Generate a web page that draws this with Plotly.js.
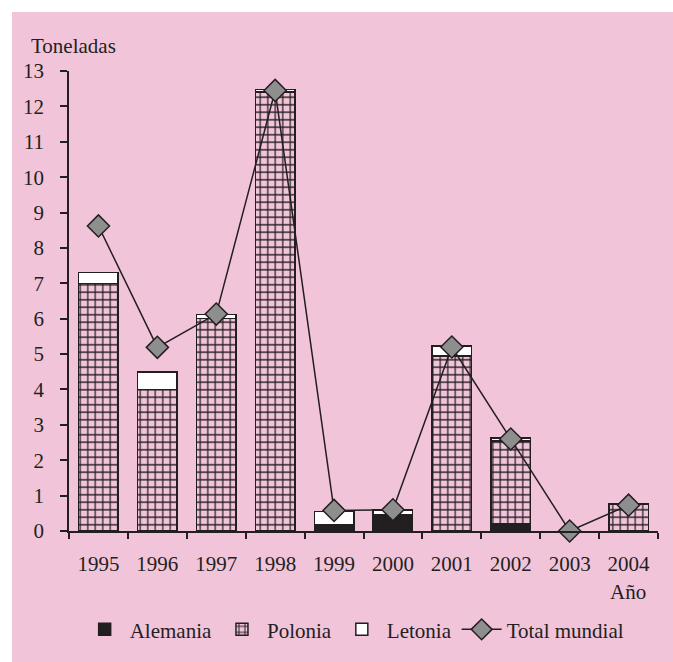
<!DOCTYPE html>
<html>
<head>
<meta charset="utf-8">
<script src="https://cdn.plot.ly/plotly-3.0.1.min.js"></script>
<style>
html,body{margin:0;padding:0;background:#ffffff;}
#chart{position:absolute;left:12px;top:12px;width:661px;height:650px;}
</style>
</head>
<body>
<div id="chart"></div>
<script>
const years = ['1995','1996','1997','1998','1999','2000','2001','2002','2003','2004'];
const alemania = [null,null,null,null,0.17,0.45,null,0.2,null,null];
const polonia = [7.0,4.0,6.0,12.4,null,null,4.95,2.34,null,0.77];
const letonia = [0.3,0.5,0.12,0.08,0.38,0.15,0.28,0.09,null,null];
const totalMundial = [8.62,5.19,6.13,12.45,0.58,0.6,5.2,2.6,0,0.73];

const pink = '#F2C4DA';
const ink = '#231F20';

const traces = [
  {type:'bar', name:'Alemania', x:years, y:alemania,
   marker:{color:ink, line:{color:ink, width:1.5}}},
  {type:'bar', name:'Polonia', x:years, y:polonia,
   marker:{color:pink, line:{color:ink, width:1.5},
           pattern:{shape:'+', fgcolor:ink, bgcolor:pink, size:7.5, solidity:0.3, fillmode:'replace'}}},
  {type:'bar', name:'Letonia', x:years, y:letonia,
   marker:{color:'#ffffff', line:{color:ink, width:1.5}}},
  {type:'scatter', mode:'lines+markers', name:'Total mundial', x:years, y:totalMundial,
   cliponaxis:false,
   line:{color:ink, width:1.5},
   marker:{symbol:'diamond', size:17, color:'#8E8E8E', line:{color:ink, width:1.5}}}
];

const layout = {
  width:661, height:650,
  paper_bgcolor:pink, plot_bgcolor:pink,
  margin:{l:57, r:15, t:59, b:125},
  barmode:'stack', bargap:0.33,
  showlegend:true,
  font:{family:'Liberation Serif', size:21, color:ink},
  xaxis:{type:'category', range:[-0.5,9.5], showgrid:false, zeroline:false,
         showline:true, linecolor:ink, linewidth:1.5,
         ticks:'outside', tickson:'boundaries', ticklen:6, tickwidth:1.5, tickcolor:ink,
         ticklabelstandoff:13},
  yaxis:{range:[0,13], dtick:1, showgrid:false, zeroline:false,
         showline:true, linecolor:ink, linewidth:1.5,
         ticks:'outside', ticklen:7, tickwidth:1.5, tickcolor:ink,
         ticklabelstandoff:12},
  legend:{orientation:'h', x:0.485, xanchor:'center', y:-0.17, yanchor:'top',
          traceorder:'normal', bgcolor:'rgba(0,0,0,0)', itemwidth:40},
  annotations:[
    {xref:'paper', yref:'paper', x:-0.068, y:1.054, xanchor:'left', yanchor:'middle',
     text:'Toneladas', showarrow:false},
    {xref:'paper', yref:'paper', x:0.983, y:-0.133, xanchor:'right', yanchor:'middle',
     text:'Año', showarrow:false}
  ]
};

Plotly.newPlot('chart', traces, layout, {displayModeBar:false});
</script>
</body>
</html>
